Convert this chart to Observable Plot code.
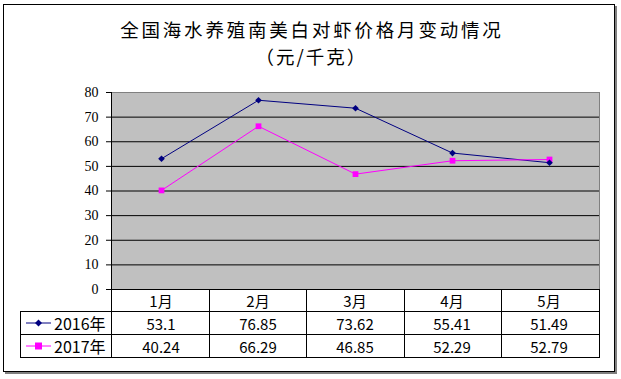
<!DOCTYPE html>
<html><head><meta charset="utf-8">
<script src="https://cdn.jsdelivr.net/npm/d3@7"></script>
<script src="https://cdn.jsdelivr.net/npm/@observablehq/plot@0.6"></script>
<style>
body{margin:0;background:#fff;}
#wrap{position:relative;width:621px;height:379px;overflow:hidden;background:#fff;}
#border{position:absolute;left:3px;top:4px;width:612px;height:368px;border:1px solid #000;box-sizing:border-box;box-shadow:2px 2px 0 #808080;}
.title{position:absolute;left:0;width:621px;text-align:center;font-family:"Noto Sans CJK SC";font-size:18.5px;line-height:27px;height:27px;color:#000;}
#t1{top:16px;letter-spacing:2.8px;text-indent:2.8px;}
#t2{top:43px;letter-spacing:2px;text-indent:2px;}
#chart{position:absolute;left:0;top:0;}
.cell{position:absolute;box-sizing:border-box;display:flex;align-items:center;justify-content:center;font-family:"Noto Sans CJK SC";font-size:15px;color:#000;white-space:nowrap;}
.hl{position:absolute;background:#000;}
</style>
</head><body>
<div id="wrap">
  <div id="border"></div>
  <div class="title" id="t1">全国海水养殖南美白对虾价格月变动情况</div>
  <div class="title" id="t2">（元/千克）</div>
  <div id="chart"></div>
</div>
<script>
const months = ["1月","2月","3月","4月","5月"];
const seriesNames = ["2016年","2017年"];
const values2016 = [53.1, 76.85, 73.62, 55.41, 51.49];
const values2017 = [40.24, 66.29, 46.85, 52.29, 52.79];
const seriesColors = ["#000080","#FF00FF"];
const seriesSymbols = ["diamond2","square"];
const yTicks = [0,10,20,30,40,50,60,70,80];

const allValues = [values2016, values2017];
const data = [];
seriesNames.forEach((s,si)=>months.forEach((m,i)=>data.push({series:s, month:m, value:allValues[si][i]})));

const W = 621, H = 379;
const chart = Plot.plot({
  width: W, height: H,
  marginLeft: 111, marginRight: 22, marginTop: 92, marginBottom: 90,
  style: {fontFamily: "Liberation Serif", fontSize: "14px", color: "#000", background: "transparent"},
  x: {type: "point", domain: months, padding: 0.5, align: 0.5, axis: null, label: null},
  y: {domain: [0, 80], axis: null, label: null},
  color: {domain: seriesNames, range: seriesColors},
  symbol: {domain: seriesNames, range: seriesSymbols},
  marks: [
    Plot.frame({fill: "#c0c0c0", stroke: "#808080"}),
    Plot.ruleY(yTicks.filter(t => t > 0 && t < 80), {stroke: "#000", strokeWidth: 1}),
    Plot.frame({anchor: "left", stroke: "#000"}),
    Plot.frame({anchor: "bottom", stroke: "#000"}),
    Plot.axisY({ticks: yTicks, tickSize: 5, tickPadding: 8, tickFormat: d => String(d), fontSize: 14, label: null}),
    Plot.line(data, {x: "month", y: "value", z: "series", stroke: "series", strokeWidth: 1}),
    Plot.dot(data, {x: "month", y: "value", fill: "series", symbol: "series", r: d => d.series === "2017年" ? 4 : 3.4, stroke: "none"})
  ]
});
document.getElementById("chart").appendChild(chart);

// Data table below the plot, positioned with the chart's own x scale
const xs = chart.scale("x");
const plotLeft = 111, plotRight = W - 22;
const colW = (plotRight - plotLeft) / months.length;
const tableLeft = 20;
const rowTops = [289, 311, 334, 357];
const wrap = document.getElementById("wrap");
function hline(x1,x2,y){const d=document.createElement("div");d.className="hl";d.style.left=x1+"px";d.style.top=y+"px";d.style.width=(x2-x1+1)+"px";d.style.height="1px";wrap.appendChild(d);}
function vline(x,y1,y2){const d=document.createElement("div");d.className="hl";d.style.left=x+"px";d.style.top=y1+"px";d.style.width="1px";d.style.height=(y2-y1+1)+"px";wrap.appendChild(d);}
function cell(x,y,w,h,text,extra){const d=document.createElement("div");d.className="cell";d.style.left=x+"px";d.style.top=y+"px";d.style.width=w+"px";d.style.height=h+"px";if(typeof text==="string")d.textContent=text;else d.appendChild(text);if(extra)Object.assign(d.style,extra);wrap.appendChild(d);return d;}

hline(tableLeft, plotRight, rowTops[1]);
hline(tableLeft, plotRight, rowTops[2]);
hline(tableLeft, plotRight, rowTops[3]);
vline(tableLeft, rowTops[1], rowTops[3]);
for (let i = 0; i <= months.length; i++) vline(Math.round(plotLeft + i*colW), rowTops[0], rowTops[3]);

months.forEach((m,i)=>{
  const cx = xs.apply(m);
  const x0 = cx - colW/2;
  cell(x0, rowTops[0]+1, colW, rowTops[1]-rowTops[0]-1, m);
  cell(x0, rowTops[1]+1, colW, rowTops[2]-rowTops[1]-1, String(values2016[i]));
  cell(x0, rowTops[2]+1, colW, rowTops[3]-rowTops[2]-1, String(values2017[i]));
});

seriesNames.forEach((s,si)=>{
  const y0 = rowTops[si+1]+1, h = rowTops[si+2]-rowTops[si+1]-1;
  const ns = "http://www.w3.org/2000/svg";
  const svg = document.createElementNS(ns,"svg");
  svg.setAttribute("width","26"); svg.setAttribute("height","10");
  const ln = document.createElementNS(ns,"line");
  ln.setAttribute("x1","0");ln.setAttribute("x2","25");ln.setAttribute("y1","5");ln.setAttribute("y2","5");
  ln.setAttribute("stroke",seriesColors[si]);ln.setAttribute("stroke-width","1");
  svg.appendChild(ln);
  const mk = document.createElementNS(ns,"path");
  if (seriesSymbols[si]==="square") mk.setAttribute("d","M9,1.5h7v7h-7z");
  else mk.setAttribute("d","M12.5,1.5L16,5L12.5,8.5L9,5z");
  mk.setAttribute("fill",seriesColors[si]);
  svg.appendChild(mk);
  const box = document.createElement("div");
  box.style.display="flex";box.style.alignItems="center";
  svg.style.marginRight="2px";
  box.appendChild(svg);
  const t=document.createElement("span");t.textContent=s;t.style.fontSize="16px";
  box.appendChild(t);
  cell(tableLeft+1, y0, plotLeft-tableLeft-1, h, box, {justifyContent:"flex-start", paddingLeft:"5px"});
});
</script>
</body></html>
